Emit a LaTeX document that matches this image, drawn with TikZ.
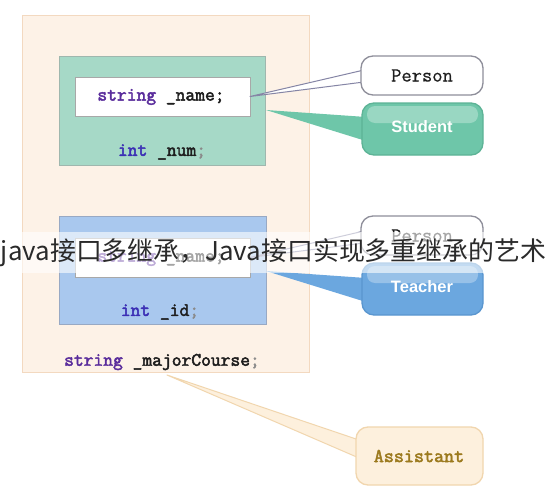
\documentclass[tikz,border=0pt]{standalone}
\usepackage{fontspec}
\newfontfamily\codefont[FakeBold=2.5]{Latin Modern Mono}
\newfontfamily\plainmono[FakeBold=0.6]{Latin Modern Mono}
\newfontfamily\cjkfont{Noto Sans CJK SC}
\newfontfamily\sansbold{Liberation Sans}
\definecolor{peachfill}{HTML}{FDF2E7}
\definecolor{peachdraw}{HTML}{F3D9C0}
\definecolor{greenfill}{HTML}{A6D9C7}
\definecolor{greendraw}{HTML}{9FB7AE}
\definecolor{bluefill}{HTML}{A9C8EE}
\definecolor{bluedraw}{HTML}{98A9C4}
\definecolor{whitedraw}{HTML}{A8A8A8}
\definecolor{kwpurple}{HTML}{5A2D9C}
\definecolor{kwblue}{HTML}{3B2FB5}
\definecolor{codedark}{HTML}{1E1E1E}
\definecolor{semigray}{HTML}{8A8A8A}
\definecolor{persondraw}{HTML}{8E8E9A}
\definecolor{tailgray}{HTML}{8585A5}
\definecolor{studentfill}{HTML}{6EC6A9}
\definecolor{studentdraw}{HTML}{5DB396}
\definecolor{teacherfill}{HTML}{6BA7DF}
\definecolor{teacherdraw}{HTML}{5A96CF}
\definecolor{assistfill}{HTML}{FDF0DD}
\definecolor{assistdraw}{HTML}{F1D6AE}
\definecolor{assisttext}{HTML}{9C7A1E}
\definecolor{bandtext}{HTML}{2A2A2A}
\begin{document}
\begin{tikzpicture}[x=1pt,y=-1pt,
  box/.style={anchor=north west, inner sep=0pt, outer sep=0pt, line width=1pt},
  code/.style={font=\fontsize{19}{20}\selectfont\codefont, inner sep=0pt},
  callout/.style={anchor=north west, inner sep=0pt, outer sep=0pt, rounded corners=12pt, line width=1.3pt},
  glossy/.style={font=\fontsize{16.5}{18}\selectfont\sansbold\bfseries, text=white}
]
\useasboundingbox (0,0) rectangle (547,490);
\fill[white] (0,0) rectangle (547,490);

% outer class box
\node[box, fill=peachfill, draw=peachdraw, minimum width=287pt, minimum height=357pt] (outer) at (22,15) {};
% Student part
\node[box, fill=greenfill, draw=greendraw, minimum width=206pt, minimum height=109pt] (green) at (59,56) {};
\node[box, fill=white, draw=whitedraw, minimum width=175pt, minimum height=39pt] (whiteA) at (75,77) {};
\node[code] (nameA) at (161,97) {\textcolor{kwpurple}{string} \textcolor{codedark}{\_name;}};
\node[code] (num) at (162,152) {\textcolor{kwblue}{int} \textcolor{codedark}{\_num}\textcolor{semigray}{;}};
% Teacher part
\node[box, fill=bluefill, draw=bluedraw, minimum width=207pt, minimum height=108pt] (blue) at (59,216) {};
\node[box, fill=white, draw=whitedraw, minimum width=175pt, minimum height=39pt] (whiteB) at (75,238) {};
\node[code] (nameB) at (161,258) {\textcolor{kwpurple}{string} \textcolor{codedark}{\_name;}};
\node[code] (idf) at (160,312) {\textcolor{kwblue}{int} \textcolor{codedark}{\_id}\textcolor{semigray}{;}};
% own field
\node[code] (major) at (162,362) {\textcolor{kwpurple}{string} \textcolor{codedark}{\_majorCourse}\textcolor{semigray}{;}};

% tail anchor points
\coordinate (sA) at (266,110);
\coordinate (sB) at (266,271);
\coordinate (aA) at (167,375);

% tails
\filldraw[fill=white, draw=tailgray, line width=1pt, line join=round] (whiteA.east) -- (364,70) -- (364,82) -- cycle;
\fill[studentfill] (sA) -- (366,117) -- (366,141) -- cycle;
\filldraw[fill=white, draw=tailgray, line width=1pt, line join=round] (whiteB.east) -- (364,231) -- (364,243) -- cycle;
\fill[teacherfill] (sB) -- (366,278) -- (366,302) -- cycle;
\filldraw[fill=assistfill, draw=assistdraw, line width=1pt, line join=round] (aA) -- (359,440) -- (359,458) -- cycle;

% callouts
\node[callout, fill=white, draw=persondraw, minimum width=122pt, minimum height=39pt] (personA) at (361,56) {};
\node[font=\fontsize{20}{21}\selectfont\plainmono, text=codedark] at (personA.center) {Person};

\node[callout, fill=studentfill, draw=studentdraw, minimum width=121pt, minimum height=52pt] (student) at (362,103) {};
\fill[white, opacity=0.3, rounded corners=8pt] (367,106) rectangle (478,123);
\node[glossy] at (422,127) {Student};

\node[callout, fill=white, draw=persondraw, minimum width=122pt, minimum height=39pt] (personB) at (361,216) {};
\node[font=\fontsize{20}{21}\selectfont\plainmono, text=codedark] at (personB.center) {Person};

\node[callout, fill=teacherfill, draw=teacherdraw, minimum width=121pt, minimum height=52pt] (teacher) at (362,263) {};
\fill[white, opacity=0.3, rounded corners=8pt] (367,266) rectangle (478,283);
\node[glossy] at (422,287) {Teacher};

\node[callout, fill=assistfill, draw=assistdraw, minimum width=127pt, minimum height=58pt] (assistant) at (356,427) {};
\node[font=\fontsize{19.5}{21}\selectfont\codefont, text=assisttext] at (419,456) {Assistant};

% overlay title band
\fill[white, opacity=0.6] (0,232) rectangle (547,273);
\node[inner sep=0pt, text=bandtext] (title) at (273.5,253) {\resizebox{545pt}{!}{\cjkfont java接口多继承，Java接口实现多重继承的艺术}};
\end{tikzpicture}
\end{document}
